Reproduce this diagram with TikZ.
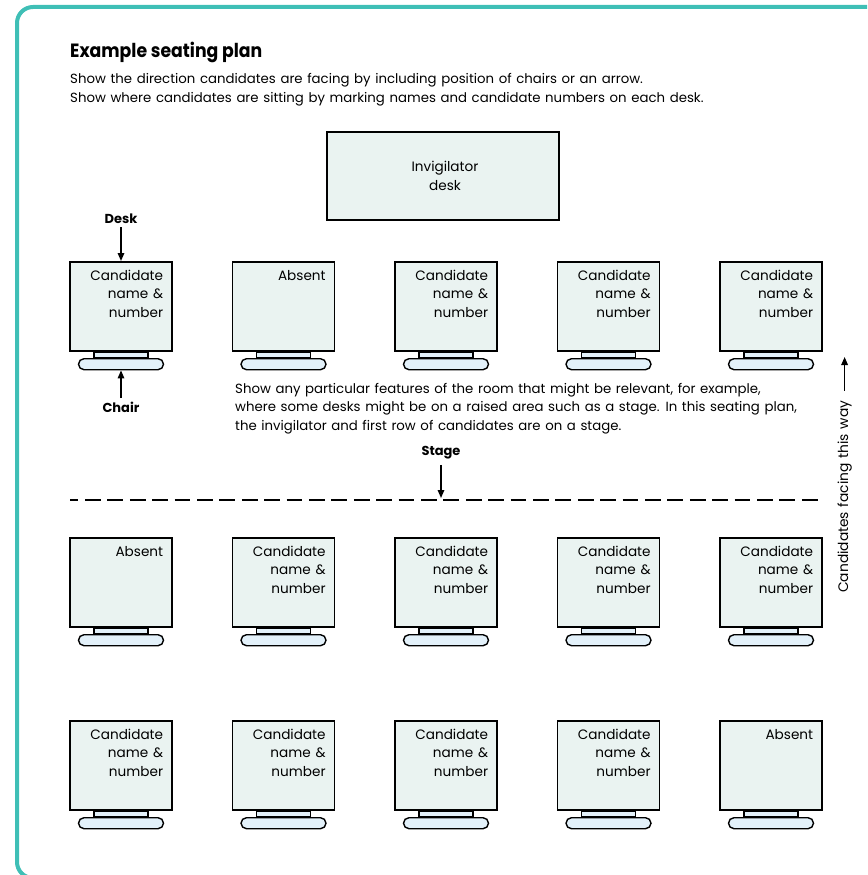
\documentclass[tikz,border=0pt]{standalone}
\usepackage{fontspec}
\setmainfont[WordSpace=1.3]{Poppins}
\newfontfamily\titlefont[FakeStretch=0.9]{Poppins}
\usetikzlibrary{arrows.meta}
\definecolor{tealb}{HTML}{3FBFB6}
\definecolor{deskfill}{HTML}{EAF3F1}
\definecolor{chairfill}{HTML}{E3F1FA}
\newcommand{\rlines}[1]{\begin{tabular}[t]{@{}r@{}}#1\end{tabular}}
\newcommand{\llines}[1]{\begin{tabular}[t]{@{}l@{}}#1\end{tabular}}
\newcommand{\clines}[1]{\begin{tabular}[t]{@{}c@{}}#1\end{tabular}}
\begin{document}
\begin{tikzpicture}[x=1pt,y=-1pt,
  border/.style={draw=tealb,line width=4pt,rounded corners=16pt},
  deskbox/.style={draw,line width=1.6pt,fill=deskfill,minimum width=102pt,minimum height=89pt,inner sep=0pt,anchor=north},
  chairback/.style={draw,line width=1.4pt,fill=chairfill,minimum width=54pt,minimum height=5pt,inner sep=0pt,anchor=north},
  chairseat/.style={draw,line width=1.4pt,fill=chairfill,minimum width=85pt,minimum height=11pt,inner sep=0pt,rounded corners=5.5pt,anchor=north},
  desktext/.style={font=\fontsize{13.6}{18.5}\selectfont,inner sep=0pt,anchor=base east},
  bodytext/.style={font=\fontsize{13.3}{18.5}\selectfont,inner sep=0pt,anchor=base west},
  boldlbl/.style={font=\fontsize{13}{16}\selectfont\bfseries,inner sep=0pt,anchor=base},
  arr/.style={line width=1.5pt,-{Triangle[length=8pt,width=6.5pt]}},
  dashline/.style={line width=1.8pt,dash pattern=on 15.7pt off 6.7pt,dash phase=7.4pt}
]
\clip (0,0) rectangle (867,875);
\useasboundingbox (0,0) rectangle (867,875);
\draw[border] (17,7) rectangle (890,878);

% title and instructions
\node[font=\fontsize{19.2}{24}\selectfont\titlefont\bfseries,inner sep=0pt,anchor=base west] (title) at (70,58) {Example seating plan};
\node[bodytext] (sub) at (70,84) {\llines{Show the direction candidates are facing by including position of chairs or an arrow.\\Show where candidates are sitting by marking names and candidate numbers on each desk.}};

% invigilator desk
\node[draw,line width=1.6pt,fill=deskfill,minimum width=232pt,minimum height=88pt,inner sep=0pt,anchor=north] (inv) at (443,131) {};
\node[font=\fontsize{13.6}{18.5}\selectfont,inner sep=0pt,anchor=base] (invt) at (445,171.7) {\clines{Invigilator\\desk}};

% desks
\foreach \r/\ty in {1/261,2/537,3/720}{
  \foreach \c in {0,...,4}{
    \pgfmathsetmacro\cx{121+162.5*\c}
    \pgfmathtruncatemacro\isabs{(\r==1 && \c==1) || (\r==2 && \c==0) || (\r==3 && \c==4)}
    \node[deskbox] (d\r\c) at (\cx,\ty) {};
    \node[chairback] (cb\r\c) at (d\r\c.south) {};
    \node[chairseat] (cs\r\c) at (cb\r\c.south) {};
    \ifnum\isabs=1
      \node[desktext] (t\r\c) at ([xshift=-9.5pt,yshift=-19pt]d\r\c.north east) {\rlines{Absent}};
    \else
      \node[desktext] (t\r\c) at ([xshift=-9.5pt,yshift=-19pt]d\r\c.north east) {\rlines{Candidate\\name \&\\number}};
    \fi
  }
}

% desk / chair labels
\node[boldlbl] (desklbl) at (121,223) {Desk};
\draw[arr,shorten <=4pt] (desklbl.south) -- (d10.north);
\node[boldlbl] (chairlbl) at (121,412.7) {Chair};
\draw[arr,shorten <=4pt] (chairlbl.north) -- (cs10.south);

% room features text
\node[bodytext] (feat) at (235,393) {\llines{Show any particular features of the room that might be relevant, for example,\\where some desks might be on a raised area such as a stage. In this seating plan,\\the invigilator and first row of candidates are on a stage.}};

% stage
\node[boldlbl] (stagelbl) at (441,455) {Stage};
\coordinate (dl) at (70,500);
\coordinate (dr) at (820,500);
\draw[dashline] (dl) -- (dr);
\coordinate (stagept) at (441,498);
\draw[arr,shorten <=6pt] (stagelbl.south) -- (stagept);

% facing direction
\node[font=\fontsize{13.8}{16}\selectfont,inner sep=0pt,rotate=90,anchor=base west] (face) at (848,593) {Candidates facing this way};
\coordinate (fatip) at (843,357);
\draw[arr,shorten <=10pt] (face.east) -- (face.east |- fatip);
\end{tikzpicture}
\end{document}
